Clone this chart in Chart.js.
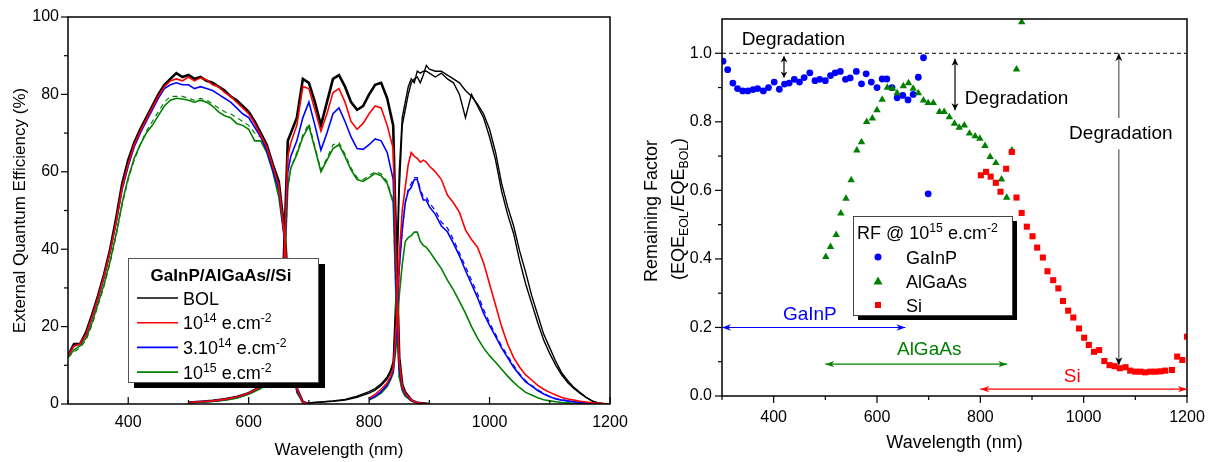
<!DOCTYPE html>
<html>
<head>
<meta charset="utf-8">
<script src="https://cdn.jsdelivr.net/npm/chart.js@4.4.0/dist/chart.umd.min.js"></script>
<style>
  html, body { margin: 0; padding: 0; background: #fff; }
  #wrap { position: relative; width: 1212px; height: 462px; }
  #left { position: absolute; left: 0; top: 0; }
  #right { position: absolute; left: 625px; top: 0; }
</style>
</head>
<body>
<div id="wrap">
  <canvas id="left" width="640" height="462"></canvas>
  <canvas id="right" width="587" height="462"></canvas>
</div>
<script>
// ---- EQE spectra (left panel), wavelength in nm, EQE in % ----
const wlTop = [300,310,320,330,340,350,360,370,380,390,400,410,420,430,440,450,460,470,480,490,500,510,520,530,540,550,560,570,580,590,600,610,620,630,640,650,660,670,680,690,700];
const topBol   = [12.5,15.5,15.5,18.5,23,28,33.5,40,48,57,63,67.5,71,74,77,80,82.5,84,85.5,84.5,85,84,84.5,83.5,83,82,81,79.5,78.5,77,75.5,73,70,67,62,57.5,44,20,4,0.5,0];
const topRed   = [12.5,15,15.5,18,22.5,27.5,33,39.5,47,56,62,67,70.5,73.5,76.5,79.5,82,83.5,84,83.5,84.5,83.5,84.3,83.8,82.5,82,80.5,79.5,78,76.5,75,72.5,69.5,66.5,61.5,56.5,43,19,4,0.5,0];
const topBlue  = [12.5,15,15.5,18,22.5,27.5,33,39.5,47,55.5,61.5,66.5,70,73,76,79,81.5,82.5,83,82.5,82.5,81.5,82,81.5,81,80,79,78,76.5,75,74,71.5,69,65.5,60.5,55.5,42,18,3.5,0.5,0];
const topGreen = [12,14,15,17,21,26,31,37,44,52,58.5,63.5,67,70,72,74.5,77,78.5,79,78.8,78.5,78,78.5,78,77,75.5,74.5,74,72.5,72,71,68,68,65,60,53.5,42,16,3,0.3,0];
const topGreenDash = [12,13.5,14.5,16.5,20.5,25.5,30.5,36.5,43.5,51.5,58,63,67,70.5,73,75.5,78,79.5,79.5,79.5,79,78.5,79,78.5,77.5,76.5,75.5,75,74,73,72,70,69,66,61,54.5,42.5,16.5,3,0.3,0];

const wlMid = [500,520,540,560,580,600,620,640,650,655,660,665,670,680,690,700,710,720,730,740,750,760,770,780,790,800,810,820,830,840,845,850,855,860,870,880,900];
const midBol   = [0.4,0.6,0.8,1.2,1.8,2.8,4.5,8,12,22,45,68,70,74,84,83,78,72,78,84,85,82,78,76,77,80,82.5,83,79,72,40,12,5,3,1,0.3,0];
const midRed   = [0.4,0.6,0.8,1.2,1.8,2.8,4.5,8,12,21,42,64,67.5,72,82,81.5,76,70.5,75,80.5,81.5,78,73,71,72.5,75,77,76.5,72,66,36,11,4.5,2.8,1,0.3,0];
const midBlue  = [0.4,0.6,0.8,1.2,1.8,2.8,4.5,8,12,20,40,60,64,68,74,78,72,65.6,70,75,76.5,73,69,66,65.8,67,68.5,68,65,58,30,9,4,2.5,0.9,0.3,0];
const midGreen = [0.3,0.5,0.7,1,1.5,2.5,4,7,11,18,36,56,61,64.5,69,71.8,66,60,63,66,67,64,60.5,58,57.5,58.5,59.6,59,57,52,25,7,3.5,2,0.8,0.2,0];
const midGreenDash = [0.3,0.5,0.7,1,1.5,2.5,4,7,11,18,36,56,61,65,69.5,72.5,66.5,60.5,63.5,67,67.5,64.5,61,58.5,58,59,60,59.5,57.5,52.5,25,7,3.5,2,0.8,0.2,0];

const wlSiBol = [690,700,720,740,760,780,800,810,820,830,835,840,845,850,855,860,865,870,875,880,885,890,895,900,910,920,930,940,950,960,970,980,990,1000,1010,1020,1030,1040,1050,1060,1070,1080,1090,1100,1110,1120,1130,1140,1150,1160,1170,1180,1190,1200];
const siBol  = [0.2,0.3,0.5,0.7,1.0,1.7,2.8,3.6,4.8,6.5,8,10,25,55,72,76,80,83,84,84.5,83,85,87.5,86.5,86,86,85,84,83,81,79.5,77.5,75,71,65,57,51,46,39.5,34,28,23,18,14.5,11,8,6,4.3,3,1.8,0.8,0.3,0.1,0];
const siBol2 = [0.2,0.3,0.5,0.8,1.2,2,3.2,4,5.2,7,8.5,11,30,60,74,78,82,84,83,86,85.5,86,86,85.5,84.5,85.5,84,83,80,74,80,77,74,69,63,55,49,44,37,31,26,21,16.5,13,10,7.5,5.5,4,2.8,1.7,0.8,0.3,0.1,0];

const wlSi = [800,810,820,830,835,840,845,850,855,860,865,870,875,880,885,890,895,900,910,920,930,940,950,960,970,980,990,1000,1010,1020,1030,1040,1050,1060,1070,1080,1090,1100,1110,1120,1130,1140,1150,1160,1170,1180,1190,1200];
const siRed   = [1.5,2.5,3.8,5.5,7,9,20,38,50,56,62,65,64,63.5,62.5,63,62.5,61.5,60,58,54,52,49.5,45,42.5,40.5,36.5,31,25.5,20,15.5,12,9.5,7.5,6.2,4.8,3.8,3,2.3,1.7,1.3,1,0.7,0.5,0.3,0.2,0.1,0];
const siBlue  = [1.2,2,3.2,5,6.5,8.5,18,35,45,52,55,56,58,58,55,52.7,52.7,51,49,46,44.5,41.5,38.3,34.5,31,27.5,23.5,20.3,17.5,14.5,12,9.5,7.5,5.7,4.6,3.5,2.6,1.9,1.3,1,0.8,0.6,0.4,0.3,0.2,0.1,0.05,0];
const siBlueDash = [1.2,2,3.2,5,6.5,8.5,18,35,45,52,55.5,57,58.5,58.5,55.5,53.5,53.5,52,50,47,45.5,42.5,39,35.5,32,28.5,24.5,21,18,15,12.5,10,7.8,6,4.8,3.7,2.7,2,1.4,1.1,0.8,0.6,0.4,0.3,0.2,0.1,0.05,0];
const siGreen = [1,1.8,2.8,4.5,6,8,15,28,36,42,43,43.5,44.4,44.4,42,41,40.5,39.5,37.2,35,32,29.5,26.5,23.5,20,17,14.5,12.5,10.8,9,7.2,5.6,4.2,3,2.3,1.6,1.1,0.8,0.6,0.4,0.3,0.2,0.15,0.1,0.05,0,0,0];

// ---- remaining factor @ 1e15 (right panel) ----
const rfGaInPx = [302,311,321,330,340,350,360,369,380,390,401,411,421,430,440,450,459,470,480,489,500,510,519,529,539,548,560,570,579,589,600,610,619,629,639,650,660,670,680,690,699];
const rfGaInPy = [0.977,0.952,0.913,0.897,0.89,0.89,0.894,0.897,0.89,0.9,0.916,0.895,0.91,0.913,0.924,0.916,0.929,0.943,0.92,0.924,0.92,0.935,0.943,0.947,0.924,0.928,0.947,0.911,0.94,0.916,0.9,0.925,0.925,0.9,0.87,0.877,0.864,0.88,0.93,0.987,0.59];
const rfAlGaAsx = [501,510,521,530,540,550,561,570,580,591,600,610,620,630,639,651,661,670,680,690,699,709,721,730,740,750,759,769,779,790,799,809,819,830,841,851,861,870,880];
const rfAlGaAsy = [0.406,0.435,0.47,0.533,0.576,0.63,0.717,0.741,0.8,0.81,0.834,0.865,0.9,0.897,0.884,0.904,0.913,0.897,0.884,0.863,0.855,0.855,0.829,0.829,0.814,0.795,0.783,0.79,0.766,0.758,0.751,0.73,0.698,0.68,0.632,0.579,0.717,0.953,1.091];
const rfSix = [801,811,820,830,839,850,861,870,880,890,901,910,921,930,941,951,960,970,980,991,1001,1010,1020,1030,1040,1050,1060,1070,1081,1090,1100,1110,1119,1129,1139,1149,1158,1171,1181,1191,1200];
const rfSiy = [0.644,0.654,0.64,0.622,0.596,0.663,0.712,0.579,0.534,0.494,0.466,0.433,0.404,0.364,0.338,0.314,0.277,0.249,0.229,0.197,0.17,0.149,0.129,0.134,0.102,0.09,0.087,0.081,0.084,0.074,0.071,0.071,0.069,0.071,0.071,0.072,0.074,0.076,0.115,0.105,0.173];

const FONT = "'Liberation Sans', Arial, sans-serif";
const RED = '#ff0000', BLUE = '#0000ff', GREEN = '#008000', BLACK = '#000000';

const pts = (xs, ys) => xs.map((x, i) => ({ x: x, y: ys[i] }));
const ds = (xs, ys, color, w, dash) => ({
  data: pts(xs, ys), borderColor: color, borderWidth: w, borderDash: dash || [],
  pointRadius: 0, fill: false, tension: 0
});

// draws text with superscript / subscript pieces, y = baseline
function rich(ctx, parts, x, y, size, align, bold) {
  const f = s => (bold ? 'bold ' : '') + s + 'px ' + FONT;
  let w = 0;
  parts.forEach(([t, m]) => { ctx.font = f(m ? size * 0.68 : size); w += ctx.measureText(t).width; });
  let cx = align === 'center' ? x - w / 2 : (align === 'right' ? x - w : x);
  ctx.textAlign = 'left';
  ctx.textBaseline = 'alphabetic';
  parts.forEach(([t, m]) => {
    ctx.font = f(m ? size * 0.68 : size);
    const dy = m === 'sup' ? -size * 0.38 : (m === 'sub' ? size * 0.24 : 0);
    ctx.fillText(t, cx, y + dy);
    cx += ctx.measureText(t).width;
  });
}

function head(ctx, x, y, ang, len, hw) {
  const c = Math.cos(ang), s = Math.sin(ang);
  ctx.beginPath();
  ctx.moveTo(x, y);
  ctx.lineTo(x - len * c + hw * s, y - len * s - hw * c);
  ctx.lineTo(x - len * 0.7 * c, y - len * 0.7 * s);
  ctx.lineTo(x - len * c - hw * s, y - len * s + hw * c);
  ctx.closePath();
  ctx.fill();
}

function arrow(ctx, x1, y1, x2, y2, color, lw, len, hw) {
  ctx.strokeStyle = color; ctx.fillStyle = color; ctx.lineWidth = lw;
  ctx.beginPath(); ctx.moveTo(x1, y1); ctx.lineTo(x2, y2); ctx.stroke();
  const ang = Math.atan2(y2 - y1, x2 - x1);
  head(ctx, x2, y2, ang, len, hw);
  head(ctx, x1, y1, ang + Math.PI, len, hw);
}

function frameAndTicks(ctx, a, x, y, o) {
  ctx.strokeStyle = '#000';
  ctx.lineWidth = 1.5;
  ctx.strokeRect(a.left, a.top, a.right - a.left, a.bottom - a.top);
  ctx.lineWidth = 1.2;
  const nx = Math.round((x.max - x.min) / o.xMinor);
  for (let i = 0; i <= nx; i++) {
    const v = x.min + i * o.xMinor;
    const major = Math.abs(v / o.xMajor - Math.round(v / o.xMajor)) < 1e-6;
    const len = major ? 7 : 4, px = x.getPixelForValue(v);
    ctx.beginPath(); ctx.moveTo(px, a.bottom); ctx.lineTo(px, a.bottom + (o.xIn ? -len : len)); ctx.stroke();
  }
  const ny = Math.round((o.yTop - y.min) / o.yMinor);
  for (let i = 0; i <= ny; i++) {
    const v = y.min + i * o.yMinor;
    const major = Math.abs(v / o.yMajor - Math.round(v / o.yMajor)) < 1e-6;
    const len = major ? 7 : 4, py = y.getPixelForValue(v);
    ctx.beginPath(); ctx.moveTo(a.left, py); ctx.lineTo(a.left - len, py); ctx.stroke();
  }
}

const tickFont = { family: FONT, size: 16 };

// ------------------- left: EQE -------------------
const eqeDecor = {
  id: 'eqeDecor',
  afterDraw(chart) {
    const { ctx, chartArea: a, scales: { x, y } } = chart;
    ctx.save();
    frameAndTicks(ctx, a, x, y, { xMinor: 100, xMajor: 200, xIn: true, yMinor: 10, yMajor: 20, yTop: 100 });

    ctx.fillStyle = '#000';
    ctx.font = '17px ' + FONT;
    ctx.textAlign = 'center';
    ctx.textBaseline = 'middle';
    ctx.fillText('Wavelength (nm)', (a.left + a.right) / 2, 450);
    ctx.save();
    ctx.translate(20, (a.top + a.bottom) / 2);
    ctx.rotate(-Math.PI / 2);
    ctx.fillText('External Quantum Efficiency (%)', 0, 0);
    ctx.restore();

    // legend box with shadow
    ctx.fillStyle = '#000';
    ctx.fillRect(134, 264, 191, 124);
    ctx.fillStyle = '#fff';
    ctx.fillRect(128, 258, 191, 124);
    ctx.strokeStyle = '#555'; ctx.lineWidth = 1;
    ctx.strokeRect(128.5, 258.5, 190, 124);
    ctx.fillStyle = '#000';
    rich(ctx, [['GaInP/AlGaAs//Si', '']], 221, 281, 17, 'center', true);
    const rows = [
      [BLACK, [['BOL', '']]],
      [RED, [['10', ''], ['14', 'sup'], [' e.cm', ''], ['-2', 'sup']]],
      [BLUE, [['3.10', ''], ['14', 'sup'], [' e.cm', ''], ['-2', 'sup']]],
      [GREEN, [['10', ''], ['15', 'sup'], [' e.cm', ''], ['-2', 'sup']]]
    ];
    rows.forEach(([c, parts], i) => {
      const ry = 298 + i * 24.7;
      ctx.strokeStyle = c; ctx.lineWidth = 1.6;
      ctx.beginPath(); ctx.moveTo(137, ry); ctx.lineTo(178, ry); ctx.stroke();
      ctx.fillStyle = '#000';
      rich(ctx, parts, 183, ry + 6.5, 18, 'left');
    });
    ctx.restore();
  }
};

new Chart(document.getElementById('left'), {
  type: 'line',
  data: {
    datasets: [
      ds(wlTop, topRed, RED, 1.6), ds(wlMid, midRed, RED, 1.6), ds(wlSi, siRed, RED, 1.6),
      ds(wlTop, topBlue, BLUE, 1.6), ds(wlMid, midBlue, BLUE, 1.6), ds(wlSi, siBlue, BLUE, 1.6),
      ds(wlSi, siBlueDash, BLUE, 1.2, [5, 4]),
      ds(wlTop, topGreen, GREEN, 1.6), ds(wlMid, midGreen, GREEN, 1.6), ds(wlSi, siGreen, GREEN, 1.6),
      ds(wlTop, topGreenDash, GREEN, 1.2, [5, 4]), ds(wlMid, midGreenDash, GREEN, 1.2, [5, 4]),
      ds(wlTop, topBol, BLACK, 2.6), ds(wlMid, midBol, BLACK, 2.6),
      ds(wlSiBol, siBol, BLACK, 1.4), ds(wlSiBol, siBol2, BLACK, 1.4)
    ]
  },
  options: {
    responsive: false,
    animation: false,
    events: [],
    layout: { padding: { top: 17, right: 30, left: 0, bottom: 0 } },
    plugins: { legend: { display: false }, tooltip: { enabled: false } },
    scales: {
      x: {
        type: 'linear', min: 300, max: 1200,
        grid: { display: false, drawTicks: false }, border: { display: false },
        ticks: { stepSize: 200, includeBounds: false, padding: 9, color: '#000', font: tickFont, maxRotation: 0,
                 callback: v => String(v) },
        afterFit(s) { s.height = 58; s.paddingLeft = 0; s.paddingRight = 0; }
      },
      y: {
        min: 0, max: 100,
        grid: { display: false, drawTicks: false }, border: { display: false },
        ticks: { stepSize: 20, padding: 9, color: '#000', font: tickFont },
        afterFit(s) { s.width = 68; s.paddingTop = 0; s.paddingBottom = 0; }
      }
    }
  },
  plugins: [eqeDecor]
});

// ------------------- right: remaining factor -------------------
const rfDecor = {
  id: 'rfDecor',
  afterDraw(chart) {
    const { ctx, chartArea: a, scales: { x, y } } = chart;
    const X = v => x.getPixelForValue(v), Y = v => y.getPixelForValue(v);
    ctx.save();

    // reference line at RF = 1
    ctx.strokeStyle = '#000'; ctx.lineWidth = 1; ctx.setLineDash([4, 3]);
    ctx.beginPath(); ctx.moveTo(a.left, Y(1)); ctx.lineTo(a.right, Y(1)); ctx.stroke();
    ctx.setLineDash([]);

    frameAndTicks(ctx, a, x, y, { xMinor: 100, xMajor: 200, xIn: false, yMinor: 0.1, yMajor: 0.2, yTop: 1.0 });

    // degradation arrows
    arrow(ctx, X(420), Y(0.991), X(420), Y(0.929), '#000', 1.2, 6, 3.5);
    arrow(ctx, X(751), Y(0.984), X(751), Y(0.834), '#000', 1.2, 7, 3.5);
    const lx = X(1068);
    ctx.strokeStyle = '#666'; ctx.lineWidth = 1.3;
    ctx.beginPath(); ctx.moveTo(lx, Y(1.0)); ctx.lineTo(lx, Y(0.811)); ctx.stroke();
    ctx.beginPath(); ctx.moveTo(lx, Y(0.72)); ctx.lineTo(lx, Y(0.09)); ctx.stroke();
    ctx.fillStyle = '#000';
    head(ctx, lx, Y(1.0), -Math.PI / 2, 8, 3.5);
    head(ctx, lx, Y(0.09), Math.PI / 2, 8, 3.5);

    ctx.fillStyle = '#000';
    ctx.font = '19px ' + FONT;
    ctx.textBaseline = 'middle';
    ctx.textAlign = 'left';
    ctx.fillText('Degradation', X(338), Y(1.04));
    ctx.fillText('Degradation', X(770), Y(0.868));
    ctx.textAlign = 'center';
    ctx.fillText('Degradation', X(1072), Y(0.766));

    // subcell ranges
    arrow(ctx, X(300), Y(0.2), X(655), Y(0.2), BLUE, 1.1, 9, 3.2);
    arrow(ctx, X(500), Y(0.093), X(852), Y(0.093), GREEN, 1.1, 9, 3.2);
    arrow(ctx, X(800), Y(0.02), X(1200), Y(0.02), RED, 1.1, 9, 3.2);
    ctx.font = '19px ' + FONT;
    ctx.textAlign = 'center';
    ctx.fillStyle = BLUE; ctx.fillText('GaInP', X(470), Y(0.236));
    ctx.fillStyle = GREEN; ctx.fillText('AlGaAs', X(701), Y(0.134));
    ctx.fillStyle = RED; ctx.fillText('Si', X(978), Y(0.056));

    // axis titles
    ctx.fillStyle = '#000';
    ctx.font = '18px ' + FONT;
    ctx.fillText('Wavelength (nm)', (a.left + a.right) / 2, 443);
    ctx.save();
    ctx.translate(25, 211);
    ctx.rotate(-Math.PI / 2);
    rich(ctx, [['Remaining Factor', '']], 0, 6.5, 18, 'center');
    ctx.restore();
    ctx.save();
    ctx.translate(52, 209);
    ctx.rotate(-Math.PI / 2);
    rich(ctx, [['(EQE', ''], ['EOL', 'sub'], ['/EQE', ''], ['BOL', 'sub'], [')', '']], 0, 6.5, 18, 'center');
    ctx.restore();

    // legend box with shadow
    const bx = 228, by = 216, bw = 159, bh = 99;
    ctx.fillStyle = '#000';
    ctx.fillRect(bx + 5, by + 5, bw, bh);
    ctx.fillStyle = '#fff';
    ctx.fillRect(bx, by, bw, bh);
    ctx.strokeStyle = '#444'; ctx.lineWidth = 1;
    ctx.strokeRect(bx + 0.5, by + 0.5, bw, bh);
    ctx.fillStyle = '#000';
    rich(ctx, [['RF @ 10', ''], ['15', 'sup'], [' e.cm', ''], ['-2', 'sup']], 232, 239, 18, 'left');
    const items = [[BLUE, 'circle', 'GaInP'], [GREEN, 'triangle', 'AlGaAs'], [RED, 'rect', 'Si']];
    items.forEach(([c, st, label], i) => {
      const ry = 257 + i * 24;
      ctx.fillStyle = c;
      ctx.beginPath();
      if (st === 'circle') ctx.arc(253, ry, 3.5, 0, Math.PI * 2);
      else if (st === 'triangle') { ctx.moveTo(253, ry - 4.5); ctx.lineTo(257.5, ry + 3.5); ctx.lineTo(248.5, ry + 3.5); ctx.closePath(); }
      else ctx.rect(250, ry - 3, 6, 6);
      ctx.fill();
      ctx.fillStyle = '#000';
      rich(ctx, [[label, '']], 281, ry + 6.5, 18, 'left');
    });
    ctx.restore();
  }
};

new Chart(document.getElementById('right'), {
  type: 'scatter',
  data: {
    datasets: [
      { label: 'Si', data: pts(rfSix, rfSiy), pointStyle: 'rect', pointRadius: 4.3, backgroundColor: RED, borderWidth: 0 },
      { label: 'AlGaAs', data: pts(rfAlGaAsx, rfAlGaAsy), pointStyle: 'triangle', pointRadius: 4.3, backgroundColor: GREEN, borderWidth: 0 },
      { label: 'GaInP', data: pts(rfGaInPx, rfGaInPy), pointStyle: 'circle', pointRadius: 3.4, backgroundColor: BLUE, borderWidth: 0 }
    ]
  },
  options: {
    responsive: false,
    animation: false,
    events: [],
    layout: { padding: { top: 19, right: 25, left: 0, bottom: 0 } },
    plugins: { legend: { display: false }, tooltip: { enabled: false } },
    scales: {
      x: {
        type: 'linear', min: 300, max: 1200,
        grid: { display: false, drawTicks: false }, border: { display: false },
        ticks: { stepSize: 200, includeBounds: false, padding: 12, color: '#000', font: tickFont, maxRotation: 0,
                 callback: v => String(v) },
        afterFit(s) { s.height = 66; s.paddingLeft = 0; s.paddingRight = 0; }
      },
      y: {
        min: 0, max: 1.1,
        grid: { display: false, drawTicks: false }, border: { display: false },
        ticks: { stepSize: 0.2, includeBounds: false, padding: 10, color: '#000', font: tickFont,
                 callback: v => v.toFixed(1) },
        afterFit(s) { s.width = 97; s.paddingTop = 0; s.paddingBottom = 0; }
      }
    }
  },
  plugins: [rfDecor]
});
</script>
</body>
</html>
